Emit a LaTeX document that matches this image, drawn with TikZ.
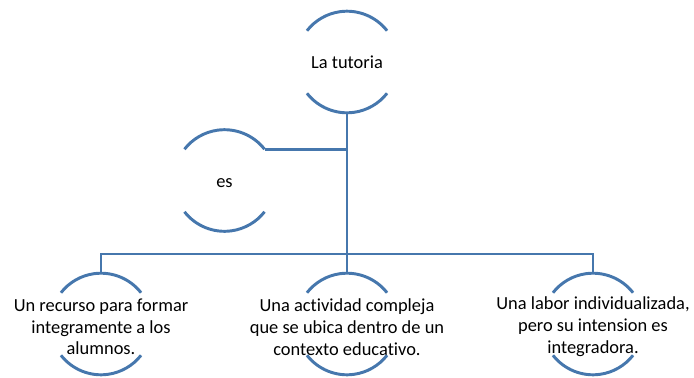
\documentclass[tikz,border=0pt]{standalone}
\usepackage{fontspec}
\setmainfont[Ligatures=NoCommon]{Carlito}
\definecolor{ringblue}{HTML}{4677AD}
\tikzset{
  ring/.style={circle,draw=none,inner sep=0pt,outer sep=0pt,minimum size=2.54cm},
  arcline/.style={ringblue,line width=2.1pt},
  link/.style={ringblue,line width=1.9pt},
  txt/.style={align=center,inner sep=0pt,font=\fontsize{13.1}{15.6}\selectfont}
}
\begin{document}
\begin{tikzpicture}

\useasboundingbox (0,0) rectangle (17.35,9.425); % Outline of picture

\node[ring] (tut) at (8.675,7.875) {}; % Top circle
\node[ring] (es) at (5.6125,4.9125) {}; % Side circle
\node[ring] (rec) at (2.525,1.325) {}; % Bottom circle - Left
\node[ring] (act) at (8.675,1.325) {}; % Bottom circle - Middle
\node[ring] (lab) at (14.825,1.325) {}; % Bottom circle - Right
\coordinate (bus) at (8.675,3.075);

\foreach \n in {tut,es,rec,act,lab} {
  \draw[arcline] (\n.38) arc[start angle=38,end angle=142,radius=1.27];
  \draw[arcline] (\n.218) arc[start angle=218,end angle=322,radius=1.27];
}

\node[txt] (tut-t) at (tut) {La tutoria};
\node[txt] (es-t) at ([yshift=-0.07cm]es.center) {es};
\node[txt] (rec-t) at ([yshift=-0.07cm]rec.center) {Un recurso para formar\\integramente a los\\alumnos.};
\node[txt] (act-t) at ([yshift=-0.07cm]act.center) {Una actividad compleja\\que se ubica dentro de un\\contexto educativo.};
\node[txt] (lab-t) at ([yshift=-0.07cm]lab.center) {Una labor individualizada,\\pero su intension es\\integradora.};

\draw[link] (tut.south) -- (bus);
\draw[link] (es.38) -- (es.38 -| tut.south);
\draw[link] (rec.north) |- (bus) -| (lab.north);
\draw[link] (bus) -- (act.north);

\end{tikzpicture}
\end{document}
